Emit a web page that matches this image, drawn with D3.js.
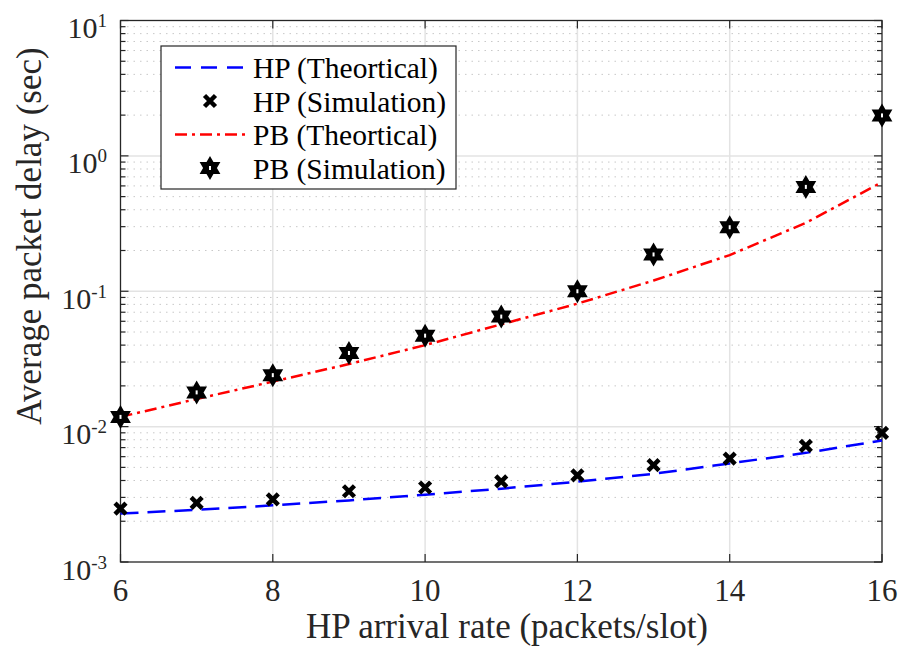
<!DOCTYPE html>
<head>
<meta charset="utf-8">
<style>
    body { margin: 0; background: #fff; }
    text { font-family: "Liberation Serif", "Times New Roman", serif; fill: #262626; }
</style>
</head>
<body>
<script src="https://d3js.org/d3.v7.min.js"></script>
<script>

///////////////////////////
////////// DATA ///////////
///////////////////////////

const rates = [6, 7, 8, 9, 10, 11, 12, 13, 14, 15, 16];
const hpTheory = [0.00228, 0.00243, 0.00262, 0.00285, 0.00314, 0.00348, 0.00392, 0.00448, 0.00535, 0.0064, 0.0079];
const hpSim = [0.00248, 0.00273, 0.0029, 0.00333, 0.00355, 0.00394, 0.00436, 0.0052, 0.0058, 0.0072, 0.009];
const pbTheory = [0.0118, 0.016, 0.0215, 0.029, 0.04, 0.057, 0.081, 0.12, 0.185, 0.32, 0.64];
const pbSim = [0.0118, 0.0179, 0.024, 0.035, 0.047, 0.065, 0.1, 0.187, 0.297, 0.59, 1.99];
const xTicks = [6, 8, 10, 12, 14, 16];
const yExponents = [-3, -2, -1, 0, 1];
const legendLabels = ['HP (Theortical)', 'HP (Simulation)', 'PB (Theortical)', 'PB (Simulation)'];

///////////////////////////
////////// SETUP //////////
///////////////////////////

const W = 903, H = 652;
const plot = { left: 120.5, right: 882, top: 20.5, bottom: 562 };

const svg = d3.select('body').append('svg')
    .attr('width', W).attr('height', H);

const x = d3.scaleLinear().domain([6, 16]).range([plot.left, plot.right]);
const y = d3.scaleLog().domain([1e-3, 1e1]).range([plot.bottom, plot.top]);

const minorVals = [];
for (let e = -3; e < 1; e++) {
    for (let m = 2; m <= 9; m++) minorVals.push(m * Math.pow(10, e));
}

//////////////////////////
////////// GRID //////////
//////////////////////////

const grid = svg.append('g');
grid.selectAll('.minor').data(minorVals).enter().append('line')
    .attr('x1', plot.left).attr('x2', plot.right)
    .attr('y1', d => y(d)).attr('y2', d => y(d))
    .attr('stroke', '#c8c8c8').attr('stroke-width', 1)
    .attr('stroke-dasharray', '1.5,5');
grid.selectAll('.majorY').data(yExponents.slice(1, -1)).enter().append('line')
    .attr('x1', plot.left).attr('x2', plot.right)
    .attr('y1', d => y(Math.pow(10, d))).attr('y2', d => y(Math.pow(10, d)))
    .attr('stroke', '#e3e3e3').attr('stroke-width', 1.5);
grid.selectAll('.majorX').data(xTicks.slice(1, -1)).enter().append('line')
    .attr('y1', plot.top).attr('y2', plot.bottom)
    .attr('x1', d => x(d)).attr('x2', d => x(d))
    .attr('stroke', '#e3e3e3').attr('stroke-width', 1.5);

//////////////////////////
////////// AXES //////////
//////////////////////////

const axisColor = '#262626';
const axes = svg.append('g');
axes.append('rect')
    .attr('x', plot.left).attr('y', plot.top)
    .attr('width', plot.right - plot.left).attr('height', plot.bottom - plot.top)
    .attr('fill', 'none').attr('stroke', axisColor).attr('stroke-width', 1.3);

// y ticks, both sides, inward
const yMajor = yExponents.map(e => Math.pow(10, e));
[[plot.left, 1], [plot.right, -1]].forEach(([x0, dir]) => {
    axes.selectAll(null).data(yMajor).enter().append('line')
        .attr('x1', x0).attr('x2', x0 + dir * 8)
        .attr('y1', d => y(d)).attr('y2', d => y(d))
        .attr('stroke', axisColor).attr('stroke-width', 1.2);
    axes.selectAll(null).data(minorVals).enter().append('line')
        .attr('x1', x0).attr('x2', x0 + dir * 5)
        .attr('y1', d => y(d)).attr('y2', d => y(d))
        .attr('stroke', axisColor).attr('stroke-width', 1.2);
});
// x ticks, top and bottom
[[plot.bottom, -1], [plot.top, 1]].forEach(([y0, dir]) => {
    axes.selectAll(null).data(xTicks).enter().append('line')
        .attr('y1', y0).attr('y2', y0 + dir * 8)
        .attr('x1', d => x(d)).attr('x2', d => x(d))
        .attr('stroke', axisColor).attr('stroke-width', 1.2);
});

// tick labels
axes.selectAll('.xl').data(xTicks).enter().append('text')
    .attr('x', d => x(d)).attr('y', 601)
    .attr('text-anchor', 'middle').attr('font-size', 31)
    .text(d => d);

const yl = axes.selectAll('.yl').data(yExponents).enter().append('text')
    .attr('x', 107).attr('y', d => y(Math.pow(10, d)) + 17.5)
    .attr('text-anchor', 'end').attr('font-size', 30);
yl.append('tspan').text('10');
yl.append('tspan').attr('dy', -11).attr('font-size', 19).text(d => d);

// axis titles
svg.append('text')
    .attr('x', 507).attr('y', 638)
    .attr('text-anchor', 'middle').attr('font-size', 35)
    .text('HP arrival rate (packets/slot)');
svg.append('text')
    .attr('transform', 'translate(41,236) rotate(-90)')
    .attr('text-anchor', 'middle').attr('font-size', 35)
    .text('Average packet delay (sec)');

//////////////////////////
////////// DRAW //////////
//////////////////////////

const line = d3.line().x((d, i) => x(rates[i])).y(d => y(d));

svg.append('path').attr('d', line(hpTheory))
    .attr('fill', 'none').attr('stroke', '#0000ff').attr('stroke-width', 2.5)
    .attr('stroke-dasharray', '18,9');
svg.append('path').attr('d', line(pbTheory))
    .attr('fill', 'none').attr('stroke', '#ff0000').attr('stroke-width', 2.5)
    .attr('stroke-dasharray', '12,5,3,5');

const crossPath = 'M-5.5,-5.5L5.5,5.5M-5.5,5.5L5.5,-5.5';
function hexagram(r) {
    const tri = a => d3.range(3).map(k => {
        const t = a + k * 2 * Math.PI / 3;
        return [r * Math.sin(t), -r * Math.cos(t)];
    });
    const p = t => 'M' + t.map(q => q.join(',')).join('L') + 'Z';
    return p(tri(0)) + p(tri(Math.PI));
}

function drawCross(g, cx, cy) {
    g.append('path').attr('d', crossPath)
        .attr('transform', 'translate(' + cx + ',' + cy + ')')
        .attr('stroke', '#000').attr('stroke-width', 4.5).attr('fill', 'none');
}
function drawStar(g, cx, cy) {
    g.append('path').attr('d', hexagram(10))
        .attr('transform', 'translate(' + cx + ',' + cy + ')')
        .attr('fill', '#000').attr('stroke', '#000').attr('stroke-width', 2)
        .attr('stroke-linejoin', 'miter');
    g.append('rect').attr('x', cx - 1).attr('y', cy - 2).attr('width', 2).attr('height', 4)
        .attr('fill', '#fff');
}

const marks = svg.append('g');
hpSim.forEach((v, i) => drawCross(marks, x(rates[i]), y(v)));
pbSim.forEach((v, i) => drawStar(marks, x(rates[i]), y(v)));

////////////////////////////
////////// LEGEND //////////
////////////////////////////

const lg = svg.append('g');
lg.append('rect').attr('x', 161).attr('y', 46).attr('width', 295).attr('height', 143)
    .attr('fill', '#fff').attr('stroke', '#262626').attr('stroke-width', 1.2);
const rowY = [67.5, 101, 134.5, 168];
lg.selectAll('.lt').data(legendLabels).enter().append('text')
    .attr('x', 253).attr('y', (d, i) => rowY[i] + 10.5)
    .attr('font-size', 29.5).style('fill', '#000')
    .text(d => d);
lg.append('line').attr('x1', 175).attr('x2', 245).attr('y1', rowY[0]).attr('y2', rowY[0])
    .attr('stroke', '#0000ff').attr('stroke-width', 2.5).attr('stroke-dasharray', '16,10');
lg.append('line').attr('x1', 175).attr('x2', 245).attr('y1', rowY[2]).attr('y2', rowY[2])
    .attr('stroke', '#ff0000').attr('stroke-width', 2.5).attr('stroke-dasharray', '12,5,3,5');
drawCross(lg, 210, rowY[1]);
drawStar(lg, 210, rowY[3]);

</script>
</body>
